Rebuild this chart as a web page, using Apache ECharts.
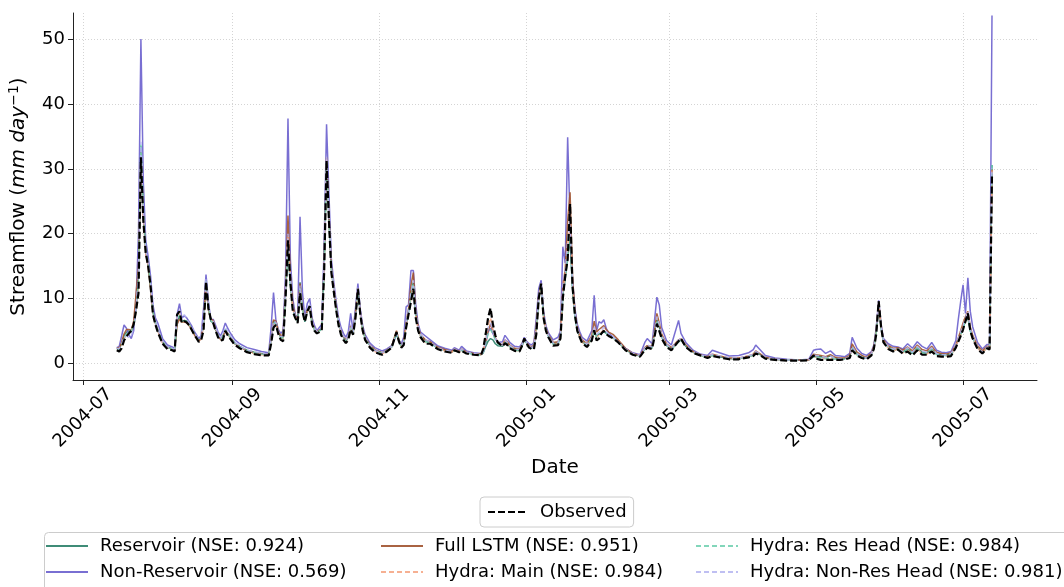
<!DOCTYPE html>
<html>
<head>
<meta charset="utf-8">
<script src="https://cdn.jsdelivr.net/npm/echarts@6/dist/echarts.min.js"></script>
<style>
html,body{margin:0;padding:0;background:#fff;}
#chart{width:1064px;height:587px;}
</style>
</head>
<body>
<div id="chart"></div>
<script>
// ---------------- DATA ----------------
const dates = [
'2004-07-15','2004-07-16','2004-07-17','2004-07-18','2004-07-19','2004-07-20','2004-07-21','2004-07-22','2004-07-23','2004-07-24','2004-07-25','2004-07-26','2004-07-27','2004-07-28','2004-07-29','2004-07-30','2004-07-31',
'2004-08-01','2004-08-03','2004-08-05','2004-08-07','2004-08-08','2004-08-09','2004-08-10','2004-08-11','2004-08-12','2004-08-13','2004-08-14','2004-08-15','2004-08-16','2004-08-17','2004-08-18','2004-08-19','2004-08-20','2004-08-21','2004-08-22','2004-08-23','2004-08-24','2004-08-25','2004-08-26','2004-08-27','2004-08-28','2004-08-29','2004-08-30','2004-08-31',
'2004-09-02','2004-09-04','2004-09-07','2004-09-10','2004-09-13','2004-09-16','2004-09-17','2004-09-18','2004-09-19','2004-09-20','2004-09-21','2004-09-22','2004-09-23','2004-09-24','2004-09-25','2004-09-26','2004-09-27','2004-09-28','2004-09-29','2004-09-30',
'2004-10-01','2004-10-02','2004-10-03','2004-10-04','2004-10-05','2004-10-06','2004-10-07','2004-10-08','2004-10-09','2004-10-10','2004-10-11','2004-10-12','2004-10-13','2004-10-14','2004-10-15','2004-10-16','2004-10-17','2004-10-18','2004-10-19','2004-10-20','2004-10-21','2004-10-22','2004-10-23','2004-10-24','2004-10-25','2004-10-26','2004-10-28','2004-10-30',
'2004-11-02','2004-11-04','2004-11-06','2004-11-08','2004-11-09','2004-11-10','2004-11-11','2004-11-12','2004-11-13','2004-11-14','2004-11-15','2004-11-16','2004-11-17','2004-11-18','2004-11-20','2004-11-22','2004-11-25','2004-11-28',
'2004-12-01','2004-12-02','2004-12-04','2004-12-05','2004-12-07','2004-12-10','2004-12-13','2004-12-14','2004-12-15','2004-12-16','2004-12-17','2004-12-18','2004-12-19','2004-12-20','2004-12-22','2004-12-23','2004-12-24','2004-12-25','2004-12-27','2004-12-29','2004-12-30','2004-12-31',
'2005-01-01','2005-01-02','2005-01-03','2005-01-04','2005-01-05','2005-01-06','2005-01-07','2005-01-08','2005-01-09','2005-01-10','2005-01-12','2005-01-14','2005-01-15','2005-01-16','2005-01-17','2005-01-18','2005-01-19','2005-01-20','2005-01-21','2005-01-22','2005-01-23','2005-01-24','2005-01-26','2005-01-28','2005-01-29','2005-01-30','2005-01-31',
'2005-02-01','2005-02-02','2005-02-03','2005-02-04','2005-02-06','2005-02-08','2005-02-11','2005-02-14','2005-02-17','2005-02-19','2005-02-20','2005-02-22','2005-02-23','2005-02-24','2005-02-25','2005-02-26','2005-02-28',
'2005-03-02','2005-03-05','2005-03-06','2005-03-08','2005-03-11','2005-03-14','2005-03-17','2005-03-19','2005-03-22','2005-03-26','2005-03-30',
'2005-04-03','2005-04-05','2005-04-06','2005-04-08','2005-04-10','2005-04-14','2005-04-19','2005-04-24','2005-04-28','2005-04-30',
'2005-05-01','2005-05-03','2005-05-05','2005-05-07','2005-05-09','2005-05-11','2005-05-13','2005-05-15','2005-05-16','2005-05-18','2005-05-20','2005-05-22','2005-05-24','2005-05-25','2005-05-26','2005-05-27','2005-05-28','2005-05-29','2005-05-31',
'2005-06-02','2005-06-04','2005-06-06','2005-06-08','2005-06-10','2005-06-12','2005-06-14','2005-06-16','2005-06-18','2005-06-20','2005-06-22','2005-06-24','2005-06-26','2005-06-28','2005-06-29','2005-06-30',
'2005-07-01','2005-07-02','2005-07-03','2005-07-04','2005-07-05','2005-07-07','2005-07-09','2005-07-11','2005-07-12','2005-07-13'
];

const observed = [
2.0,1.8,2.3,3.5,4.1,4.6,5.0,6.0,8.2,10.8,31.8,22,17,15.0,12,7.5,6.0,
4.8,3.0,2.2,2.0,1.8,7.5,8.0,6.2,6.5,6.3,5.9,5.2,4.5,3.9,3.3,3.6,5.1,12.6,8.5,6.8,6.2,5.0,4.0,3.5,3.6,5.0,4.3,3.8,
2.8,2.3,1.7,1.4,1.2,1.2,3.0,5.5,5.9,4.5,3.6,3.4,10,19.0,12.5,8.0,7.0,6.2,10.8,8.0,
6.4,8.0,8.8,6.0,5.0,4.6,4.8,5.1,14,31.3,22,14,11,8.2,5.8,4.4,3.6,3.1,3.6,5.2,4.4,7,11.5,7.5,5.0,3.6,2.4,1.7,
1.3,1.8,2.4,4.8,3.4,2.4,2.8,5.5,7.5,9.5,11.5,7.0,5.0,4.0,3.0,3.0,2.2,1.8,
1.6,2.0,1.7,1.9,1.5,1.3,1.2,2.2,4.5,7.0,8.5,6.0,4.3,3.2,2.6,3.1,2.8,2.3,1.9,1.8,2.6,3.8,
3.0,2.4,2.2,2.1,4.5,10,12.3,7,5.0,4.0,2.7,2.8,3.8,10,13.5,16,24.6,12,7.5,5.0,4.0,3.1,2.5,3.5,5.1,3.5,3.8,
4.6,5.0,4.5,4.2,3.8,3.2,2.0,1.3,1.0,2.0,2.4,2.2,4.0,6.1,5.0,3.8,2.5,
2.0,3.4,3.8,2.5,1.6,1.2,0.8,1.1,0.9,0.6,0.6,
0.9,1.1,1.5,1.2,0.7,0.5,0.4,0.4,0.45,1.2,
0.7,0.5,0.5,0.5,0.5,0.5,0.6,0.8,2.0,1.2,0.8,0.6,1.2,2.2,4.5,9.6,5.6,3.2,2.2,
1.8,2.1,1.5,1.8,1.2,2.0,1.3,1.3,1.8,1.1,1.0,1.0,1.1,2.4,3.3,4.2,
5.2,6.5,7.7,5.0,3.8,2.2,1.5,2.3,2.1,29.3
];

const reservoir = [
2.3,2.2,3.0,4.2,4.8,5.0,4.8,5.6,8.5,14,33.5,24,17.5,15.5,12,8.0,6.3,
5.2,3.3,2.5,2.2,2.1,6.5,7.2,6.4,6.6,6.5,6.0,5.4,4.7,4.1,3.6,3.9,6.5,12.8,8.5,6.5,6.2,5.2,4.3,3.8,4.2,5.2,4.6,4.1,
3.1,2.6,2.0,1.7,1.5,1.4,3.8,6.5,6.2,4.8,4.0,4.0,11,17.5,12.0,8.5,7.2,6.5,12.5,8.5,
6.4,8.2,8.6,6.2,5.2,4.8,5.0,5.3,15,31.0,22,14.5,11.5,8.6,6.2,4.8,4.0,3.5,4.0,5.6,4.6,7.5,11.2,7.6,5.2,3.9,2.7,2.0,
1.6,2.0,2.5,4.6,3.4,2.6,3.2,6.0,8.0,11,12.5,7.8,5.4,4.3,3.5,3.2,2.4,2.0,
1.7,2.0,1.7,2.1,1.6,1.4,1.3,1.6,2.6,3.4,3.8,3.6,3.0,2.7,2.6,3.2,3.0,2.6,2.1,2.0,2.6,3.6,
3.1,2.6,2.4,2.6,5.5,10,12.0,7.3,5.2,4.2,3.0,3.1,4.0,10.5,13.0,16.5,19.0,11.5,7.2,5.1,4.1,3.3,2.8,3.8,4.8,4.2,4.5,
4.6,4.9,4.6,4.3,3.9,3.2,2.1,1.4,1.1,2.3,2.6,2.5,4.8,6.7,5.6,4.1,2.8,
2.2,3.3,3.6,2.6,1.7,1.2,0.9,1.2,1.0,0.7,0.7,
1.0,1.3,1.7,1.3,0.8,0.6,0.5,0.5,0.5,1.0,
1.0,1.0,0.9,1.1,0.8,0.7,0.7,1.0,2.5,1.5,1.0,0.8,1.4,2.4,5.0,9.0,5.5,3.3,2.5,
2.0,2.2,1.7,2.2,1.6,2.4,1.7,1.6,2.2,1.4,1.3,1.3,1.4,2.6,3.6,4.5,
5.5,6.5,7.0,5.0,3.9,2.4,1.7,2.4,2.3,30.6
];

const nonReservoir = [
2.4,2.6,4.2,5.9,5.4,4.4,3.8,5.0,9.5,20,50.1,28,19,16.5,13.5,9.0,7.0,
6.2,3.8,2.8,2.5,2.3,7.5,9.2,7.0,7.3,7.0,6.4,5.8,5.0,4.4,3.8,4.3,8.5,13.7,9.5,6.6,6.8,5.8,4.8,4.2,5.0,6.2,5.4,4.7,
3.6,3.0,2.4,2.1,1.8,1.6,5.5,10.9,6.6,5.2,4.6,5.0,14,37.8,16,10,7.5,7.0,22.6,11,
7.0,9.2,10.0,7.0,5.8,5.0,5.5,6.0,18,36.9,26,16,12.5,9.5,7.0,5.5,4.6,4.0,4.8,7.7,5.0,8.5,12.3,8.3,5.8,4.4,3.1,2.4,
1.9,2.2,2.7,4.4,3.6,3.0,4.0,8.7,9.0,14.3,14.3,9.0,6.0,4.8,4.2,3.6,2.7,2.3,
2.0,2.4,2.0,2.6,1.9,1.6,1.5,1.8,3.0,4.8,5.4,4.6,3.8,3.2,3.3,4.3,3.8,3.2,2.6,2.5,3.0,4.0,
3.4,3.0,2.8,3.2,7.0,11.5,12.8,8.0,5.8,4.7,3.6,4.0,5.0,18.0,15.5,34.9,22,13,8.5,6.0,4.9,4.0,3.4,5.0,10.5,5.0,6.4,
6.2,6.7,5.4,4.6,4.0,3.3,2.3,1.6,1.3,3.2,3.8,3.0,6.5,10.2,9.0,5.5,3.5,
2.8,6.6,4.6,3.2,2.0,1.4,1.2,2.0,1.6,1.1,1.2,
1.6,2.1,2.8,2.0,1.2,0.8,0.6,0.5,0.6,2.0,
2.1,2.2,1.5,1.9,1.2,1.1,1.0,1.5,4.0,2.3,1.5,1.2,1.8,2.8,5.5,9.7,6.0,3.8,3.0,
2.6,2.5,2.2,3.0,2.3,3.3,2.6,2.2,3.2,2.0,1.7,1.6,1.8,3.5,6.7,9.5,
12.1,7.7,13.2,8.0,5.6,3.2,2.2,2.9,2.8,53.7
];

const fullLstm = [
2.4,2.3,3.2,4.5,5.2,5.2,5.1,6.5,10.8,15,32.5,23,17,15,11.5,8.0,6.2,
5.0,3.2,2.4,2.2,2.0,6.0,6.8,6.3,6.4,6.2,5.8,5.2,4.5,3.9,3.4,3.8,6.2,12.4,8.3,6.8,6.6,5.3,4.2,3.7,4.0,5.0,4.6,4.0,
3.0,2.5,1.9,1.6,1.4,1.4,3.8,6.7,6.5,5.0,4.2,4.5,12,22.8,13.5,9.0,7.4,6.6,12.3,8.8,
6.6,8.2,8.8,6.4,5.3,4.9,5.1,5.4,15.5,31.8,23,14.8,11.8,8.8,6.3,4.9,4.1,3.6,4.1,5.8,4.8,7.8,11.6,7.8,5.4,4.0,2.8,2.1,
1.6,2.0,2.6,5.0,3.6,2.7,3.3,6.2,8.4,12,14.0,8.0,5.6,4.4,3.6,3.3,2.5,2.1,
1.8,2.2,1.8,2.2,1.7,1.5,1.4,1.9,3.2,5.0,6.0,5.0,3.9,3.2,2.8,3.6,3.3,2.8,2.3,2.2,2.8,3.8,
3.2,2.7,2.5,2.8,6.0,10.5,12.2,7.5,5.4,4.4,3.2,3.3,4.3,12,14.5,22,26.4,13.5,8.0,5.5,4.4,3.6,3.0,4.2,6.5,4.8,5.2,
5.5,5.8,5.2,4.8,4.4,3.6,2.3,1.5,1.2,2.4,2.7,2.6,5.0,7.7,6.2,4.5,3.0,
2.4,3.6,3.8,2.8,1.8,1.3,1.0,1.4,1.1,0.8,0.8,
1.1,1.4,1.9,1.4,0.9,0.6,0.5,0.5,0.5,1.4,
1.3,1.2,1.0,1.3,0.9,0.8,0.8,1.2,3.0,1.7,1.2,0.9,1.6,2.6,5.2,9.3,5.8,3.6,2.7,
2.3,2.4,2.0,2.5,1.9,2.8,2.1,1.9,2.6,1.7,1.5,1.4,1.6,2.8,3.9,5.0,
6.2,7.2,8.0,5.6,4.3,2.7,1.9,2.6,2.5,30.0
];

const hydraMain = [
2.1,2.0,2.6,3.8,4.4,4.8,5.0,5.8,8.0,12,32.5,23,17,15.2,12,7.8,6.1,
5.0,3.1,2.3,2.1,2.0,7.0,7.6,6.3,6.5,6.4,6.0,5.3,4.6,4.0,3.4,3.7,5.8,12.6,8.5,6.7,6.3,5.1,4.1,3.6,3.9,5.1,4.5,3.9,
2.9,2.4,1.8,1.5,1.3,1.3,3.4,6.0,6.0,4.6,3.8,3.8,10.5,19.5,12.8,8.3,7.1,6.3,11.2,8.2,
6.5,8.0,8.8,6.1,5.1,4.7,4.9,5.2,14.5,31.5,22.5,14.3,11.2,8.4,6.0,4.6,3.8,3.3,3.8,5.4,4.5,7.2,11.5,7.6,5.1,3.7,2.5,1.8,
1.4,1.9,2.5,4.7,3.4,2.5,3.0,5.8,7.8,10,12.0,7.3,5.2,4.1,3.2,3.1,2.3,1.9,
1.7,2.0,1.7,2.0,1.6,1.4,1.3,1.8,3.6,5.8,7.0,5.2,4.0,3.1,2.7,3.3,3.0,2.5,2.0,1.9,2.6,3.7,
3.0,2.5,2.3,2.4,5.0,10,12.3,7.1,5.1,4.1,2.9,3.0,4.0,10.8,13.8,17.5,23.0,12.2,7.6,5.1,4.1,3.2,2.7,3.7,5.3,4.0,4.3,
4.8,5.1,4.7,4.3,3.9,3.2,2.1,1.4,1.1,2.1,2.5,2.3,4.4,6.6,5.4,4.0,2.7,
2.1,3.4,3.7,2.6,1.7,1.2,0.9,1.2,1.0,0.7,0.7,
1.0,1.2,1.6,1.3,0.8,0.6,0.5,0.5,0.5,1.1,
0.9,0.8,0.7,0.8,0.6,0.6,0.6,0.9,2.3,1.3,0.9,0.7,1.3,2.3,4.8,9.4,5.6,3.3,2.3,
1.9,2.2,1.6,2.0,1.4,2.2,1.5,1.4,2.0,1.2,1.1,1.1,1.2,2.5,3.5,4.4,
5.5,6.7,7.8,5.1,3.9,2.3,1.6,2.4,2.2,29.8
];

const hydraResHead = [
2.2,2.1,2.7,3.9,4.5,4.9,5.0,5.8,8.2,13,34.0,24,17.5,15.5,12,8.0,6.3,
5.1,3.2,2.4,2.2,2.0,6.8,7.4,6.4,6.6,6.5,6.0,5.4,4.7,4.1,3.5,3.8,6.0,12.7,8.6,6.6,6.2,5.2,4.2,3.7,4.0,5.2,4.6,4.0,
3.0,2.5,1.9,1.6,1.4,1.3,3.5,6.2,6.1,4.7,3.9,3.9,10.8,18.5,12.5,8.4,7.2,6.4,11.6,8.4,
6.5,8.1,8.7,6.2,5.2,4.8,5.0,5.3,14.8,31.2,22.3,14.5,11.4,8.5,6.1,4.7,3.9,3.4,3.9,5.5,4.6,7.3,11.4,7.6,5.2,3.8,2.6,1.9,
1.5,1.9,2.5,4.6,3.4,2.6,3.1,5.9,7.9,10.5,12.2,7.5,5.3,4.2,3.3,3.1,2.3,1.9,
1.7,2.0,1.7,2.0,1.6,1.4,1.3,1.7,3.0,4.5,5.2,4.5,3.6,3.0,2.6,3.2,3.0,2.5,2.0,1.9,2.6,3.6,
3.1,2.5,2.3,2.4,5.2,10,12.1,7.2,5.2,4.2,2.9,3.0,3.9,10.5,13.2,16.8,19.5,11.8,7.4,5.1,4.1,3.3,2.7,3.7,5.0,4.0,4.3,
4.6,4.9,4.6,4.3,3.9,3.2,2.1,1.4,1.1,2.1,2.5,2.3,4.5,6.6,5.4,4.0,2.7,
2.1,3.3,3.6,2.6,1.7,1.2,0.9,1.2,1.0,0.7,0.7,
1.0,1.2,1.6,1.3,0.8,0.6,0.5,0.5,0.5,1.0,
0.9,0.8,0.7,0.8,0.6,0.6,0.6,0.9,2.3,1.3,0.9,0.7,1.3,2.3,4.8,9.2,5.5,3.3,2.4,
2.0,2.2,1.6,2.1,1.5,2.3,1.6,1.5,2.1,1.3,1.2,1.2,1.3,2.5,3.5,4.4,
5.4,6.5,7.2,5.0,3.9,2.3,1.6,2.4,2.2,30.6
];

const hydraNonResHead = [
2.3,2.2,2.9,4.0,4.2,4.0,4.2,5.4,8.5,14,34.2,24,17.5,15.5,12.5,8.2,6.4,
5.3,3.3,2.5,2.3,2.1,7.2,8.2,6.8,7.5,6.9,6.2,5.6,4.9,4.2,3.6,4.0,7.0,13.0,9.0,6.8,6.5,5.5,4.5,3.9,4.4,5.6,4.9,4.3,
3.2,2.6,2.0,1.8,1.5,1.4,3.8,6.5,6.3,4.9,4.1,4.2,11.5,20,13.5,8.8,7.3,6.6,12.0,8.8,
6.8,8.5,9.2,6.5,5.4,4.9,5.2,5.6,15.5,32.0,23,15,11.8,8.9,6.4,5.0,4.2,3.6,4.2,6.0,4.8,7.8,11.8,8.0,5.4,4.0,2.8,2.0,
1.6,2.0,2.6,4.6,3.5,2.7,3.3,6.3,8.2,11,12.8,7.9,5.5,4.4,3.6,3.3,2.4,2.0,
1.8,2.2,1.8,2.2,1.7,1.5,1.3,1.8,3.5,5.5,6.2,5.0,3.9,3.1,2.8,3.6,3.2,2.7,2.2,2.1,2.8,3.8,
3.2,2.6,2.4,2.6,5.6,10.5,12.4,7.4,5.4,4.3,3.1,3.2,4.2,12,14.2,19,22,12.5,7.8,5.4,4.3,3.5,2.9,4.0,5.8,4.4,4.8,
5.0,5.6,4.9,4.5,4.0,3.3,2.2,1.5,1.2,2.3,2.8,2.5,4.8,7.2,6.0,4.3,2.9,
2.3,3.6,3.8,2.7,1.8,1.3,1.0,1.4,1.1,0.8,0.8,
1.1,1.4,1.8,1.4,0.9,0.6,0.5,0.5,0.5,1.3,
1.2,1.1,0.9,1.1,0.8,0.7,0.7,1.0,2.6,1.5,1.0,0.8,1.5,2.5,5.0,9.5,5.8,3.5,2.6,
2.2,2.3,1.8,2.4,1.7,2.6,1.9,1.7,2.4,1.5,1.3,1.3,1.5,2.7,3.8,4.8,
5.8,7.0,8.0,5.4,4.1,2.5,1.7,2.5,2.4,30.2
];

const xTickLabels = ['2004-07','2004-09','2004-11','2005-01','2005-03','2005-05','2005-07'];
const yTicks = [0, 10, 20, 30, 40, 50];
const xRange = ['2004-06-26T20:00:00Z', '2005-07-31T16:00:00Z'];
const yRange = [-2.6, 54.1];

const seriesNames = {
  res: 'Reservoir (NSE: 0.924)',
  nonres: 'Non-Reservoir (NSE: 0.569)',
  full: 'Full LSTM (NSE: 0.951)',
  hmain: 'Hydra: Main (NSE: 0.984)',
  hres: 'Hydra: Res Head (NSE: 0.984)',
  hnonres: 'Hydra: Non-Res Head (NSE: 0.981)',
  obs: 'Observed'
};

// ---------------- CHART ----------------
const FONT = 'DejaVu Sans';
const toMs = s => Date.parse(s.length === 10 ? s + 'T00:00:00Z' : s);
const xMs = dates.map(toMs);
function pairs(vals) { return xMs.map((t, i) => [t, vals[i]]); }
function lineSeries(name, vals, color, width, dashed, opacity, z) {
  return {
    name: name, type: 'line', data: pairs(vals), symbol: 'none', showSymbol: false,
    z: z, animation: false, silent: true,
    lineStyle: { color: color, width: width, type: dashed || 'solid', opacity: opacity },
    itemStyle: { color: color, opacity: opacity }
  };
}
const xTickValues = xTickLabels.map(s => toMs(s + '-01'));
const labelByMs = {};
xTickLabels.forEach((s, i) => { labelByMs[xTickValues[i]] = s; });

const chart = echarts.init(document.getElementById('chart'), null, { renderer: 'canvas' });
const legendText = { fontFamily: FONT, fontSize: 18, color: '#000', padding: [0, 0, 0, 7] };
const legendCommon = {
  orient: 'vertical', itemWidth: 42, itemHeight: 14, itemGap: 8, padding: 0,
  textStyle: legendText, selectedMode: false,
  itemStyle: { opacity: 0, borderWidth: 0 }
};
const option = {
  backgroundColor: '#fff',
  animation: false,
  grid: { left: 73, right: 27, top: 13, bottom: 207, containLabel: false, outerBoundsMode: 'none' },
  xAxis: {
    type: 'value',
    min: toMs(xRange[0]), max: toMs(xRange[1]),
    name: 'Date', nameLocation: 'middle', nameGap: 78,
    nameTextStyle: { fontFamily: FONT, fontSize: 20, color: '#000' },
    axisLine: { show: true, onZero: false, lineStyle: { color: '#222', width: 1 } },
    axisTick: { show: true, length: 5, lineStyle: { color: '#222' }, customValues: xTickValues },
    axisLabel: {
      customValues: xTickValues,
      rotate: 45, align: 'center', verticalAlign: 'middle', margin: 38,
      fontFamily: FONT, fontSize: 18, color: '#000',
      formatter: function (v) { return labelByMs[v] || ''; }
    },
    splitLine: { show: true, lineStyle: { color: '#d4d4d4', type: [1, 2], width: 1 } }
  },
  yAxis: {
    type: 'value',
    min: yRange[0], max: yRange[1],
    name: '{n|Streamflow (}{i|mm day}{s|−1}{n|)}',
    nameLocation: 'middle', nameGap: 42, nameRotate: 90,
    nameTextStyle: {
      fontFamily: FONT, fontSize: 20, color: '#000',
      rich: {
        n: { fontFamily: FONT, fontSize: 20, color: '#000' },
        i: { fontFamily: FONT, fontSize: 20, fontStyle: 'italic', color: '#000' },
        s: { fontFamily: FONT, fontSize: 14, color: '#000', verticalAlign: 'top', padding: [0, 0, 10, 0] }
      }
    },
    axisLine: { show: true, lineStyle: { color: '#222', width: 1 } },
    axisTick: { show: true, length: 5, lineStyle: { color: '#222' }, customValues: yTicks },
    axisLabel: { customValues: yTicks, fontFamily: FONT, fontSize: 18, color: '#000', margin: 8 },
    splitLine: { show: true, lineStyle: { color: '#d4d4d4', type: [1, 2], width: 1 } }
  },
  legend: [
    Object.assign({}, legendCommon, {
      data: [seriesNames.obs], left: 480, top: 497, orient: 'horizontal',
      itemWidth: 40, padding: [6, 7, 6, 7],
      borderColor: '#cccccc', borderWidth: 1, borderRadius: 4, backgroundColor: '#fff'
    }),
    Object.assign({}, legendCommon, { data: [seriesNames.res, seriesNames.nonres], left: 45, top: 537 }),
    Object.assign({}, legendCommon, { data: [seriesNames.full, seriesNames.hmain], left: 380, top: 537 }),
    Object.assign({}, legendCommon, { data: [seriesNames.hres, seriesNames.hnonres], left: 695, top: 537 })
  ],
  graphic: [
    {
      type: 'rect', left: 44, top: 532, z: -1,
      shape: { width: 1040, height: 70, r: 4 },
      style: { fill: '#fff', stroke: '#cccccc', lineWidth: 1 }
    }
  ],
  series: [
    lineSeries(seriesNames.res, reservoir, '#2a8068', 1.5, 'solid', 0.9, 2),
    lineSeries(seriesNames.nonres, nonReservoir, '#6a5fcd', 1.5, 'solid', 0.9, 2),
    lineSeries(seriesNames.full, fullLstm, '#a0522d', 1.5, 'solid', 0.9, 2),
    lineSeries(seriesNames.hmain, hydraMain, '#f4a27f', 1.5, [5, 3], 0.85, 2),
    lineSeries(seriesNames.hres, hydraResHead, '#6ccfae', 1.5, [5, 3], 0.85, 2),
    lineSeries(seriesNames.hnonres, hydraNonResHead, '#b4b4f0', 1.5, [5, 3], 0.85, 2),
    lineSeries(seriesNames.obs, observed, '#000000', 2.2, [7, 3], 1, 3)
  ]
};
chart.setOption(option);
</script>
</body>
</html>
